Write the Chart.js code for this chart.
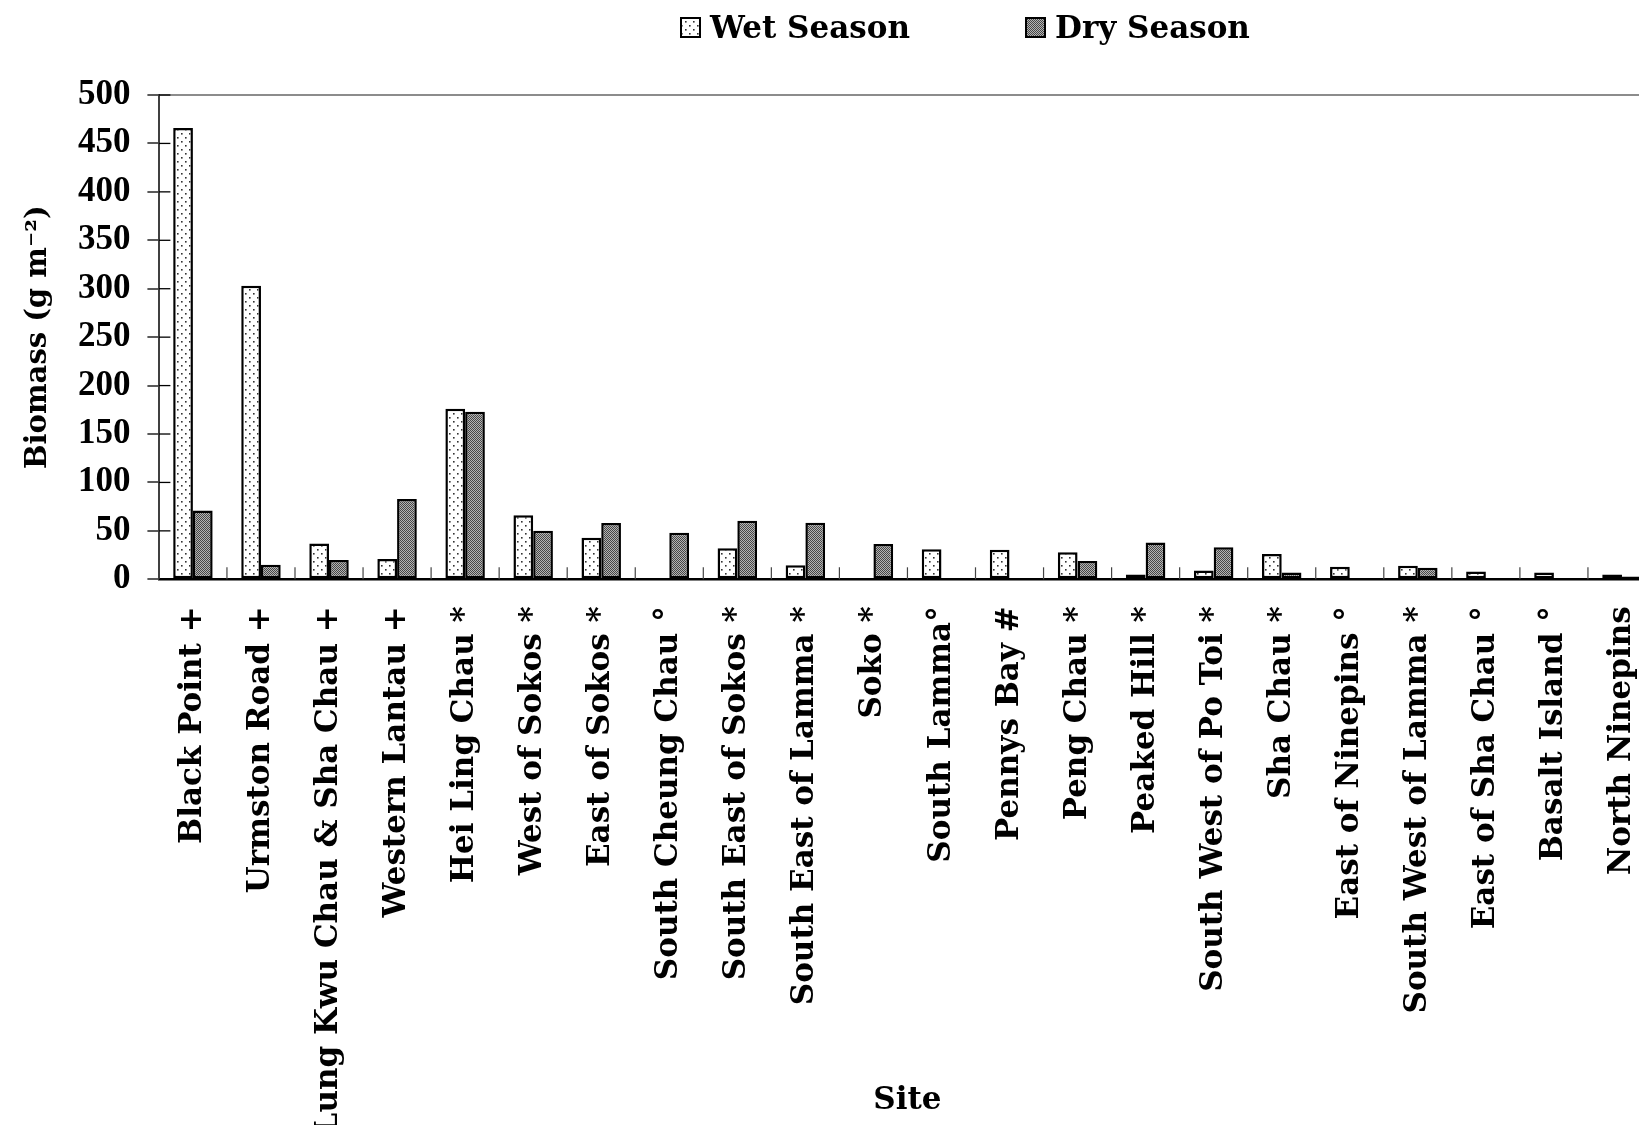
<!DOCTYPE html>
<html>
<head>
<meta charset="utf-8">
<script src="https://cdn.jsdelivr.net/npm/chart.js@4.4.1/dist/chart.umd.min.js"></script>
<style>
  html, body { margin: 0; padding: 0; background: #fff; overflow: hidden; }
  #wrap { position: relative; width: 1656px; height: 1125px; }
</style>
</head>
<body>
<div id="wrap"><canvas id="chart"></canvas></div>
<script>
// Sampling sites (marker after each name groups the sites)
const sites = [
  'Black Point +', 'Urmston Road +', 'Lung Kwu Chau & Sha Chau +', 'Western Lantau +',
  'Hei Ling Chau *', 'West of Sokos *', 'East of Sokos *', 'South Cheung Chau °',
  'South East of Sokos *', 'South East of Lamma *', 'Soko *', 'South Lamma°',
  'Pennys Bay #', 'Peng Chau *', 'Peaked Hill *', 'South West of Po Toi *',
  'Sha Chau *', 'East of Ninepins °', 'South West of Lamma *', 'East of Sha Chau °',
  'Basalt Island °', 'North Ninepins'
];

// Biomass, g m-2 (null = no sample)
const wetSeason = [466, 303, 37, 21, 176, 66, 43, null, 32, 14.5, null, 31,
                   30.5, 28, 5, 9, 26, 13, 14, 8, 7, 5];
const drySeason = [71, 15, 20, 83, 173, 50, 58, 48, 60.5, 58.5, 36.5, null,
                   null, 19, 38, 33, 7, null, 12, null, null, 3];

const seriesNames = ['Wet Season', 'Dry Season'];
const yMin = 0, yMax = 500, yStep = 50;

const SERIF = '"DejaVu Serif", "Liberation Serif", serif';

// Fill patterns: sparse dots for the wet season, fine grey hatch for the dry season
function dotPattern() {
  const c = document.createElement('canvas');
  c.width = 8; c.height = 8;
  const g = c.getContext('2d');
  g.fillStyle = '#fff'; g.fillRect(0, 0, 8, 8);
  g.fillStyle = '#333';
  g.fillRect(1, 1, 1.6, 1.6);
  g.fillRect(5, 5, 1.6, 1.6);
  return g.createPattern(c, 'repeat');
}
function hatchPattern() {
  const c = document.createElement('canvas');
  c.width = 2; c.height = 2;
  const g = c.getContext('2d');
  g.fillStyle = '#b4b4b4'; g.fillRect(0, 0, 2, 2);
  g.fillStyle = '#474747';
  g.fillRect(0, 0, 1, 1);
  g.fillRect(1, 1, 1, 1);
  return g.createPattern(c, 'repeat');
}

// Small tick marks inside the plot: across the y axis and between the categories
const innerTicks = {
  id: 'innerTicks',
  afterDatasetsDraw(chart) {
    const { ctx, chartArea, scales: { x, y } } = chart;
    ctx.save();
    ctx.strokeStyle = '#000';
    ctx.lineWidth = 1.3;
    y.ticks.forEach((t, i) => {
      const py = y.getPixelForTick(i);
      ctx.beginPath();
      ctx.moveTo(chartArea.left, py);
      ctx.lineTo(chartArea.left + 11.5, py);
      ctx.stroke();
    });
    ctx.strokeStyle = '#444';
    ctx.lineWidth = 1.2;
    for (let i = 1; i < x.ticks.length; i++) {
      const px = (x.getPixelForTick(i - 1) + x.getPixelForTick(i)) / 2;
      ctx.beginPath();
      ctx.moveTo(px, chartArea.bottom);
      ctx.lineTo(px, chartArea.bottom - 12);
      ctx.stroke();
    }
    ctx.restore();
  }
};

// Legend drawn from the datasets' own labels and fills
const seasonLegend = {
  id: 'seasonLegend',
  afterDraw(chart, args, opts) {
    const { ctx } = chart;
    ctx.save();
    chart.data.datasets.forEach((ds, i) => {
      const bx = opts.boxLeft[i];
      ctx.fillStyle = ds.backgroundColor;
      ctx.fillRect(bx, opts.boxTop, opts.boxSize, opts.boxSize);
      ctx.strokeStyle = '#000';
      ctx.lineWidth = 2;
      ctx.strokeRect(bx, opts.boxTop, opts.boxSize, opts.boxSize);
      ctx.font = 'bold 31px ' + SERIF;
      ctx.fillStyle = '#000';
      ctx.textBaseline = 'alphabetic';
      ctx.textAlign = 'left';
      ctx.fillText(ds.label, bx + opts.boxSize + opts.gap, opts.baseline);
    });
    ctx.restore();
  }
};

new Chart(document.getElementById('chart'), {
  type: 'bar',
  data: {
    labels: sites,
    datasets: [
      { label: seriesNames[0], data: wetSeason, backgroundColor: dotPattern(),
        borderColor: '#000', borderWidth: 2.5, borderSkipped: false },
      { label: seriesNames[1], data: drySeason, backgroundColor: hatchPattern(),
        borderColor: '#000', borderWidth: 2.5, borderSkipped: false }
    ]
  },
  options: {
    responsive: true,
    maintainAspectRatio: false,
    animation: false,
    layout: { padding: { top: 95, left: 0, right: 0, bottom: 0 } },
    datasets: { bar: { categoryPercentage: 0.58, barPercentage: 1 } },
    plugins: {
      legend: { display: false },
      tooltip: { enabled: false },
      seasonLegend: { boxLeft: [681, 1026], boxTop: 18, boxSize: 19, gap: 10, baseline: 38 }
    },
    scales: {
      x: {
        offset: true,
        grid: { display: false, drawTicks: false },
        border: { display: true, color: '#000', width: 2.5 },
        ticks: {
          autoSkip: false, minRotation: 90, maxRotation: 90, padding: 27,
          color: '#000', font: { family: SERIF, weight: 'bold', size: 31 }
        },
        title: {
          display: true, text: 'Site', color: '#000',
          font: { family: SERIF, weight: 'bold', size: 31 },
          padding: { top: 0, bottom: 5 }
        },
        afterFit(scale) {
          scale.height = 545.7;
          // the plot runs to the right edge; no extra room for the last label
          scale.paddingLeft = 0;
          scale.paddingRight = 0;
        }
      },
      y: {
        min: yMin, max: yMax,
        ticks: {
          stepSize: yStep, padding: 17, color: '#000',
          font: { family: '"Liberation Serif", serif', weight: 'bold', size: 35 }
        },
        grid: {
          color: (c) => (c.tick && c.tick.value === yMax ? '#8c8c8c' : 'rgba(0,0,0,0)'),
          lineWidth: 2, tickColor: '#000', tickWidth: 1.3, tickLength: 11.5, drawTicks: true
        },
        border: { color: '#404040', width: 2 },
        title: {
          display: true, text: 'Biomass (g m⁻²)', color: '#000',
          font: { family: SERIF, weight: 'bold', size: 29 },
          padding: { top: 21, bottom: 0 }
        },
        afterFit(scale) { scale.width = 158.9; }
      }
    }
  },
  plugins: [innerTicks, seasonLegend]
});
</script>
</body>
</html>
